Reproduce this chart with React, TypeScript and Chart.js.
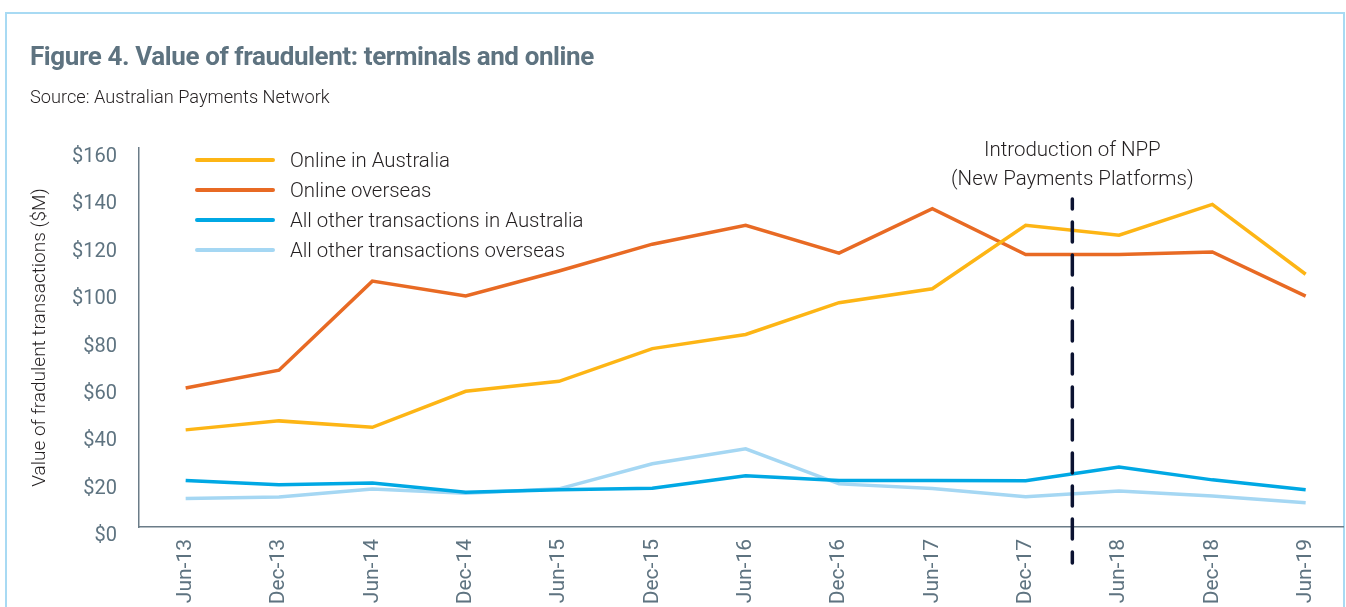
import React, { useEffect, useRef } from "react";
import { Chart, registerables } from "chart.js";

Chart.register(...registerables);

const LABELS = ["Jun-13", "Dec-13", "Jun-14", "Dec-14", "Jun-15", "Dec-15", "Jun-16", "Dec-16", "Jun-17", "Dec-17", "Jun-18", "Dec-18", "Jun-19"];

const ONLINE_AUSTRALIA = [41.0, 44.8, 42.1, 57.3, 61.5, 75.3, 81.3, 94.7, 100.6, 127.4, 123.2, 136.2, 106.7];
const ONLINE_OVERSEAS = [58.7, 66.2, 103.8, 97.5, 108.1, 119.4, 127.4, 115.6, 134.4, 115.0, 115.0, 116.1, 97.5];
const OTHER_AUSTRALIA = [19.6, 17.8, 18.6, 14.7, 15.7, 16.4, 21.6, 19.6, 19.6, 19.5, 25.3, 19.9, 15.7];
const OTHER_OVERSEAS = [12.0, 12.7, 16.0, 14.3, 16.1, 26.7, 33.0, 18.2, 16.3, 12.8, 15.2, 13.1, 10.2];

const SERIES_NAMES = ["Online in Australia", "Online overseas", "All other transactions in Australia", "All other transactions overseas"];
const SERIES_COLORS = ["#FDB515", "#E86A24", "#00A8E4", "#A5D7F3"];
const SERIES_VALUES = [ONLINE_AUSTRALIA, ONLINE_OVERSEAS, OTHER_AUSTRALIA, OTHER_OVERSEAS];

const Y_TICKS = [0, 20, 40, 60, 80, 100, 120, 140, 160];

const NPP_POSITION = 9.5;
const NPP_LINE_VALUES = [138.5, -15.2];
const NPP_TEXT = ["Introduction of NPP", "(New Payments Platforms)"];

const TITLE = "Figure 4. Value of fraudulent: terminals and online";
const SUBTITLE = "Source: Australian Payments Network";
const Y_TITLE = "Value of fradulent transactions ($M)";

const SLATE = "#5E7380";
const FONT = "Roboto, 'Noto Sans', sans-serif";

const nppTextPlugin = {
  id: "nppText",
  afterDatasetsDraw(chart: any) {
    const { ctx, scales, chartArea } = chart;
    const x = scales.x.getPixelForValue(NPP_POSITION);
    ctx.save();
    ctx.fillStyle = "#231F20";
    ctx.font = `300 20.5px ${FONT}`;
    ctx.textAlign = "center";
    ctx.textBaseline = "middle";
    NPP_TEXT.forEach((t, i) => {
      ctx.fillText(t, x, chartArea.top + 3 + i * 29);
    });
    ctx.restore();
  },
};

export default function App() {
  const canvasRef = useRef<HTMLCanvasElement | null>(null);

  useEffect(() => {
    if (!canvasRef.current) return;
    const datasets: any[] = [
      {
        label: "NPP",
        data: NPP_LINE_VALUES.map((v) => ({ x: NPP_POSITION, y: v })),
        borderColor: "#0B1231",
        borderWidth: 3.5,
        borderDash: [20, 13],
        borderDashOffset: 10,
        borderCapStyle: "round",
        pointRadius: 0,
        clip: false,
        order: 0,
      },
      ...SERIES_NAMES.map((name, i) => ({
        label: name,
        data: SERIES_VALUES[i].map((v, j) => ({ x: j, y: v })),
        borderColor: SERIES_COLORS[i],
        backgroundColor: SERIES_COLORS[i],
        borderWidth: 3.5,
        pointRadius: 0,
        tension: 0,
        order: 1 + i,
      })),
    ];

    const chart = new Chart(canvasRef.current, {
      type: "line",
      data: { datasets },
      plugins: [nppTextPlugin],
      options: {
        animation: false,
        responsive: false,
        layout: { padding: { top: 148, right: 3, bottom: 0, left: 0 } },
        plugins: {
          legend: { display: false },
          tooltip: { enabled: false },
          title: { display: false },
        },
        scales: {
          x: {
            type: "linear",
            min: -0.5,
            max: 12.4,
            grid: { display: false },
            border: { display: true, color: "#6B7C88", width: 1.5 },
            afterFit: (scale: any) => {
              scale.height = 80;
            },
            afterBuildTicks: (scale: any) => {
              scale.ticks = LABELS.map((_, i) => ({ value: i }));
            },
            ticks: {
              autoSkip: false,
              minRotation: 90,
              maxRotation: 90,
              padding: 4,
              color: SLATE,
              font: { family: FONT, size: 21 },
              callback: (v: any) => LABELS[v as number] ?? "",
            },
          },
          y: {
            type: "linear",
            min: 0,
            max: 160,
            grid: { display: false },
            border: { display: true, color: "#6B7C88", width: 1.5 },
            afterFit: (scale: any) => {
              scale.width = 139;
            },
            afterBuildTicks: (scale: any) => {
              scale.ticks = Y_TICKS.map((v) => ({ value: v }));
            },
            ticks: {
              padding: 14,
              labelOffset: 9,
              color: SLATE,
              font: { family: FONT, size: 20 },
              callback: (v: any) => "$" + v,
            },
            title: {
              display: true,
              text: Y_TITLE,
              color: "#231F20",
              font: { family: FONT, size: 19, weight: "300", lineHeight: 1 },
              padding: { top: 31, bottom: 0 },
            },
          },
        },
      } as any,
    });
    return () => chart.destroy();
  }, []);

  return (
    <div style={{ position: "absolute", left: 0, top: 0, width: 1346, height: 607, overflow: "hidden", background: "#fff", fontFamily: FONT }}>
      <div
        style={{
          position: "absolute",
          left: 5,
          top: 12,
          width: 1336,
          height: 700,
          borderLeft: "2.5px solid #A8DAF3",
          borderTop: "2.5px solid #A8DAF3",
          borderRight: "2.5px solid #A8DAF3",
        }}
      />
      <canvas ref={canvasRef} width={1346} height={607} style={{ position: "absolute", left: 0, top: 0, display: "block" }} />
      <div
        style={{
          position: "absolute",
          left: 30,
          top: 40,
          fontSize: 26,
          fontWeight: 700,
          color: SLATE,
          whiteSpace: "nowrap",
          lineHeight: "32px",
          letterSpacing: "-0.4px",
        }}
      >
        {TITLE}
      </div>
      <div
        style={{
          position: "absolute",
          left: 30,
          top: 86,
          fontSize: 18.2,
          fontWeight: 300,
          color: "#231F20",
          whiteSpace: "nowrap",
          lineHeight: "22px",
        }}
      >
        {SUBTITLE}
      </div>
      <div style={{ position: "absolute", left: 195, top: 145 }}>
        {SERIES_NAMES.map((name, i) => (
          <div key={name} style={{ display: "flex", alignItems: "center", height: 30 }}>
            <span style={{ display: "inline-block", width: 80, height: 4, borderRadius: 2, background: SERIES_COLORS[i] }} />
            <span style={{ marginLeft: 15, fontSize: 20.4, fontWeight: 300, color: "#231F20", whiteSpace: "nowrap" }}>{name}</span>
          </div>
        ))}
      </div>
    </div>
  );
}
